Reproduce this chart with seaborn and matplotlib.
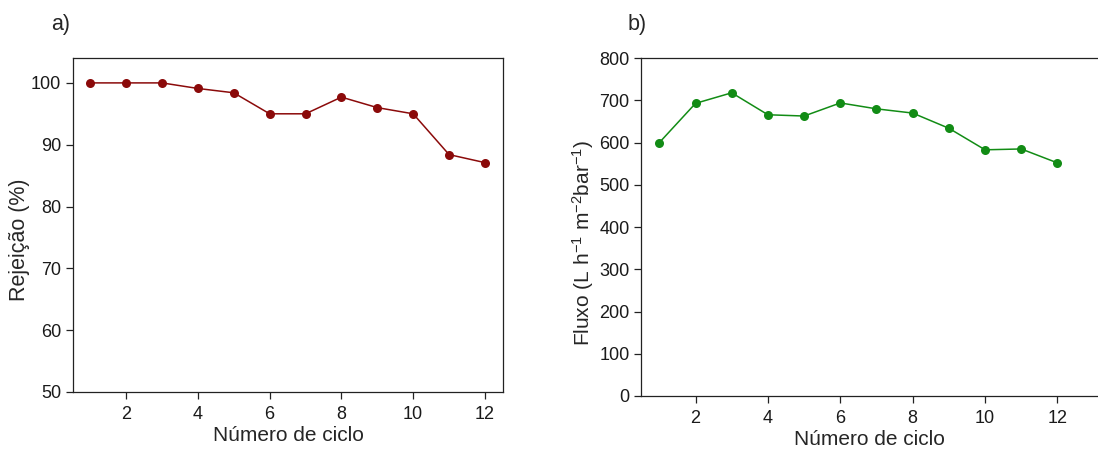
import matplotlib
matplotlib.use("Agg")
import matplotlib.pyplot as plt
import seaborn as sns
import pandas as pd

# Cycle numbers and the measured values for each panel
ciclos = [1, 2, 3, 4, 5, 6, 7, 8, 9, 10, 11, 12]
rejeicao = [100.0, 100.0, 100.0, 99.1, 98.4, 95.0, 95.0, 97.7, 96.0, 95.0, 88.4, 87.1]
fluxo = [600, 693, 718, 666, 663, 694, 680, 670, 634, 583, 585, 552]

sns.set_style("ticks")
plt.rcParams["font.family"] = ["Liberation Sans", "DejaVu Sans"]
plt.rcParams["mathtext.fontset"] = "custom"
plt.rcParams["mathtext.rm"] = "Liberation Sans"
plt.rcParams["axes.edgecolor"] = "#222222"
plt.rcParams["axes.linewidth"] = 0.9

df = pd.DataFrame({"ciclo": ciclos, "rejeicao": rejeicao, "fluxo": fluxo})

fig = plt.figure(figsize=(10.98, 4.51), dpi=100)
ax_a = fig.add_axes([0.0665, 0.131, 0.3915, 0.740])
ax_b = fig.add_axes([0.584, 0.122, 0.416, 0.749])

sns.lineplot(data=df, x="ciclo", y="rejeicao", ax=ax_a, color="#8b0a0a",
             marker="o", markersize=6.5, markeredgewidth=0, linewidth=1.1)
sns.lineplot(data=df, x="ciclo", y="fluxo", ax=ax_b, color="#128c15",
             marker="o", markersize=6.5, markeredgewidth=0, linewidth=1.1)

ax_a.set_xlim(0.52, 12.5)
ax_a.set_ylim(50, 104)
ax_a.set_xticks([2, 4, 6, 8, 10, 12])
ax_a.set_yticks([50, 60, 70, 80, 90, 100])
ax_a.set_xlabel("Número de ciclo", fontsize=15, labelpad=2)
ax_a.set_ylabel("Rejeição (%)", fontsize=15.5)
ax_a.yaxis.set_label_coords(-0.10, 0.455)

ax_b.set_xlim(0.5, 13.12)
ax_b.set_ylim(0, 800)
ax_b.set_xticks([2, 4, 6, 8, 10, 12])
ax_b.set_yticks(range(0, 801, 100))
ax_b.set_xlabel("Número de ciclo", fontsize=15, labelpad=2)
ax_b.set_ylabel(r"Fluxo (L h$\mathregular{^{-1}}$ m$\mathregular{^{-2}}$bar$\mathregular{^{-1}}$)",
                fontsize=15)
ax_b.yaxis.set_label_coords(-0.10, 0.453)
ax_b.spines["right"].set_visible(False)

for ax in (ax_a, ax_b):
    ax.tick_params(axis="both", direction="out", length=5, width=0.9,
                   labelsize=13, colors="#222222", labelcolor="#1a1a1a")
    ax.tick_params(axis="x", pad=5)
    ax.tick_params(top=False, right=False)

fig.text(0.047, 0.945, "a)", fontsize=15.5, va="center", ha="left")
fig.text(0.572, 0.945, "b)", fontsize=15.5, va="center", ha="left")

fig.savefig("out.png", dpi=100)
